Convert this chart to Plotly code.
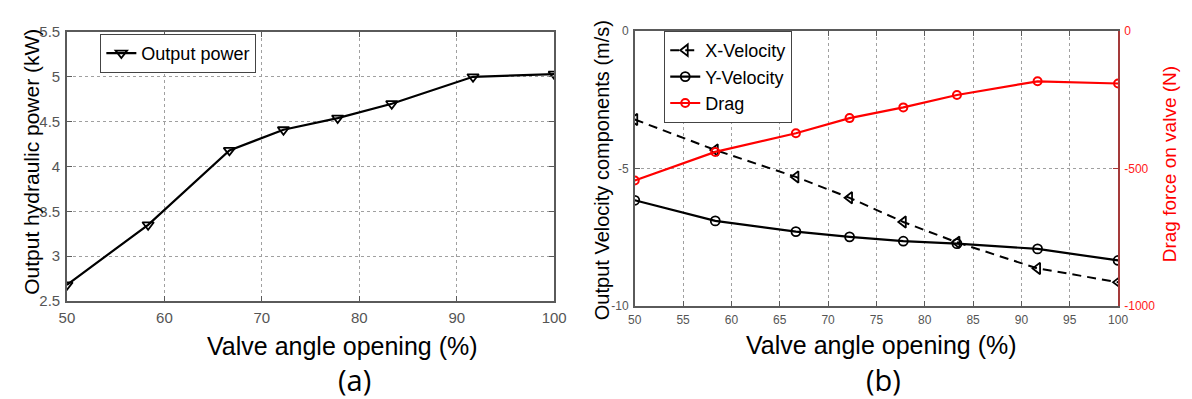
import plotly.graph_objects as go

# Valve opening positions (%) shared by both panels
opening = [50, 58.33, 66.67, 72.22, 77.78, 83.33, 91.67, 100]

# Panel (a): hydraulic output power (kW)
power_kw = [2.68, 3.35, 4.18, 4.41, 4.54, 4.70, 5.00, 5.03]

# Panel (b): outlet velocity components (m/s) and drag on the valve (N)
x_velocity = [-3.22, -4.33, -5.31, -6.07, -6.95, -7.69, -8.64, -9.14]
y_velocity = [-6.16, -6.91, -7.30, -7.49, -7.65, -7.74, -7.93, -8.35]
drag_force = [-544, -440, -372, -317, -278, -233, -183, -191]

# Tick labels
ticks_a_x = [50, 60, 70, 80, 90, 100]
ticks_a_y = [2.5, 3, 3.5, 4, 4.5, 5, 5.5]
ticks_b_x = [50, 55, 60, 65, 70, 75, 80, 85, 90, 95, 100]
ticks_b_y = [-10, -5, 0]
ticks_b_y2 = [-1000, -500, 0]

W, H = 1192, 399
FONT = "Liberation Sans, Arial, sans-serif"
AXIS_GREY = "#5a5a5a"
TICK_GREY = "#555555"
GRID = "#a0a0a0"


def px_x(p):
    return p / W


def px_y(p):
    return 1 - p / H


def labels(vals):
    # plain hyphen-minus for negative numbers
    return [f"{v:g}" for v in vals]


fig = go.Figure()

fig.add_trace(go.Scatter(
    x=opening, y=power_kw, name="Output power", mode="lines+markers",
    line=dict(color="black", width=2.2),
    marker=dict(symbol="triangle-down-open", size=10, color="black",
                line=dict(width=1.8, color="black")),
    xaxis="x", yaxis="y", legend="legend",
))

fig.add_trace(go.Scatter(
    x=opening, y=x_velocity, name="X-Velocity", mode="lines+markers",
    line=dict(color="black", width=2, dash="9px,6px"),
    marker=dict(symbol="triangle-left-open", size=10, color="black",
                line=dict(width=1.8, color="black")),
    xaxis="x2", yaxis="y2", legend="legend2",
))
fig.add_trace(go.Scatter(
    x=opening, y=y_velocity, name="Y-Velocity", mode="lines+markers",
    line=dict(color="black", width=2.2),
    marker=dict(symbol="circle-open", size=9, color="black",
                line=dict(width=1.8, color="black")),
    xaxis="x2", yaxis="y2", legend="legend2",
))
fig.add_trace(go.Scatter(
    x=opening, y=drag_force, name="Drag", mode="lines+markers",
    line=dict(color="#ff0000", width=2.2),
    marker=dict(symbol="circle-open", size=8, color="#ff0000",
                line=dict(width=2, color="#ff0000")),
    xaxis="x2", yaxis="y3", legend="legend2",
))

common_axis = dict(
    showline=True, linecolor=AXIS_GREY, linewidth=1.5,
    ticks="inside", ticklen=5, tickcolor=AXIS_GREY,
    showgrid=True, gridcolor=GRID, griddash="dot", gridwidth=1,
    zeroline=False, fixedrange=True,
)

fig.update_layout(
    width=W, height=H,
    margin=dict(l=0, r=0, t=0, b=0),
    paper_bgcolor="white", plot_bgcolor="white",
    font=dict(family=FONT, color="black"),
    xaxis=dict(
        common_axis, domain=[px_x(60), px_x(556)], anchor="y",
        range=[50, 100], tickvals=ticks_a_x, ticktext=labels(ticks_a_x),
        mirror="ticks",
        tickfont=dict(size=15, color=TICK_GREY), ticklabelstandoff=2,
    ),
    yaxis=dict(
        common_axis, domain=[px_y(305), px_y(24)], anchor="x",
        range=[2.5, 5.5], tickvals=ticks_a_y, ticktext=labels(ticks_a_y),
        mirror="ticks",
        tickfont=dict(size=15, color=TICK_GREY), ticklabelstandoff=2,
    ),
    xaxis2=dict(
        common_axis, domain=[px_x(638), px_x(1130)], anchor="y2",
        range=[50, 100], tickvals=ticks_b_x, ticktext=labels(ticks_b_x),
        mirror="ticks",
        tickfont=dict(size=12, color=TICK_GREY), ticklabelstandoff=2,
    ),
    yaxis2=dict(
        common_axis, domain=[px_y(310), px_y(23)], anchor="x2",
        range=[-10, 0], tickvals=ticks_b_y, ticktext=labels(ticks_b_y),
        mirror=False,
        tickfont=dict(size=12, color=TICK_GREY), ticklabelstandoff=2,
    ),
    yaxis3=dict(
        overlaying="y2", anchor="x2", side="right",
        range=[-1000, 0], tickvals=ticks_b_y2, ticktext=labels(ticks_b_y2),
        showline=True, linecolor="#a53a3a", linewidth=1.5,
        ticks="inside", ticklen=5, tickcolor="#a53a3a",
        showgrid=False, zeroline=False, fixedrange=True,
        tickfont=dict(size=12, color="#ff2020"), ticklabelstandoff=2,
    ),
    legend=dict(
        x=px_x(94), y=px_y(26), xanchor="left", yanchor="top",
        bgcolor="white", bordercolor="#444444", borderwidth=1,
        font=dict(size=18, color="black", family=FONT),
        itemwidth=30, tracegroupgap=0,
    ),
    legend2=dict(
        x=px_x(668), y=px_y(23), xanchor="left", yanchor="top",
        bgcolor="white", bordercolor="#444444", borderwidth=1,
        font=dict(size=18, color="black", family=FONT),
        itemwidth=30, tracegroupgap=0,
    ),
    showlegend=True,
)

annotations = [
    # panel (a) titles
    dict(text="Valve angle opening (%)", x=px_x(341), y=px_y(352),
         font=dict(size=25, color="black", family=FONT)),
    dict(text="(a)", x=px_x(353), y=px_y(387),
         font=dict(size=29, color="black", family="Open Sans, sans-serif")),
    dict(text="Output hydraulic power (kW)", x=px_x(24), y=px_y(160),
         textangle=-90, font=dict(size=21, color="black", family=FONT)),
    # panel (b) titles
    dict(text="Valve angle opening (%)", x=px_x(889), y=px_y(351),
         font=dict(size=25, color="black", family=FONT)),
    dict(text="(b)", x=px_x(891), y=px_y(387),
         font=dict(size=29, color="black", family="Open Sans, sans-serif")),
    dict(text="Output Velocity components (m/s)", x=px_x(605), y=px_y(168),
         textangle=-90, font=dict(size=20, color="black", family=FONT)),
    dict(text="Drag force on valve (N)", x=px_x(1182), y=px_y(162),
         textangle=-90, font=dict(size=19, color="#ff0000", family=FONT)),
]
for a in annotations:
    a.update(xref="paper", yref="paper", xanchor="center", yanchor="middle",
             showarrow=False)
fig.update_layout(annotations=annotations)

fig.write_html("out.html")
